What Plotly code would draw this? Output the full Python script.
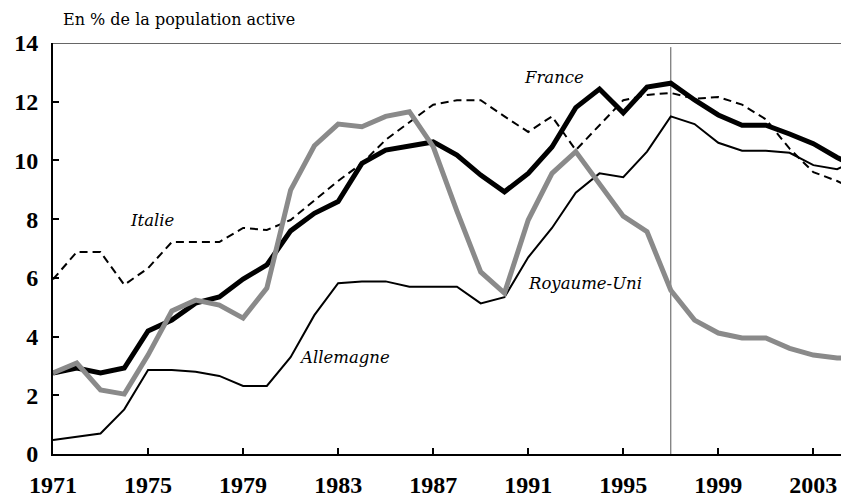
import plotly.graph_objects as go

years = list(range(1971, 2006))

france = [2.76, 2.93, 2.76, 2.93, 4.19, 4.56, 5.14, 5.35, 5.96, 6.44,
          7.6, 8.2, 8.6, 9.9, 10.35, 10.5, 10.63, 10.18, 9.5, 8.93,
          9.56, 10.46, 11.8, 12.43, 11.62, 12.5, 12.63, 12.06, 11.55, 11.2,
          11.2, 10.9, 10.57, 10.1, 9.7]
italie = [5.95, 6.88, 6.88, 5.76, 6.33, 7.22, 7.22, 7.22, 7.7, 7.63,
          7.97, 8.65, 9.3, 9.9, 10.7, 11.3, 11.9, 12.05, 12.05, 11.5,
          10.97, 11.5, 10.35, 11.2, 12.05, 12.23, 12.3, 12.1, 12.16, 11.9,
          11.4, 10.4, 9.6, 9.3, 8.9]
royaume_uni = [2.76, 3.1, 2.18, 2.04, 3.37, 4.87, 5.24, 5.07, 4.63, 5.65,
               8.99, 10.5, 11.24, 11.15, 11.5, 11.66, 10.47, 8.27, 6.2, 5.48,
               7.97, 9.56, 10.3, 9.2, 8.1, 7.57, 5.58, 4.56, 4.12, 3.95,
               3.95, 3.6, 3.37, 3.27, 3.27]
allemagne = [0.48, 0.6, 0.7, 1.52, 2.86, 2.86, 2.8, 2.66, 2.32, 2.32,
             3.3, 4.73, 5.82, 5.88, 5.88, 5.7, 5.7, 5.7, 5.13, 5.34,
             6.7, 7.7, 8.9, 9.56, 9.43, 10.3, 11.5, 11.24, 10.6, 10.33,
             10.33, 10.26, 9.84, 9.7, 10.1]

labels = ["France", "Italie", "Royaume-Uni", "Allemagne"]
label_x = [1992.1, 1975.2, 1993.4, 1983.25]
label_y = [12.84, 7.97, 5.82, 3.3]

x_ticks = list(range(1971, 2005, 4))
y_ticks = list(range(0, 15, 2))

serif = "Liberation Serif"
gray = "#8a8a8a"

fig = go.Figure()
fig.add_trace(go.Scatter(x=years, y=italie, mode="lines",
                         line=dict(color="black", width=2, dash="8px,5px")))
fig.add_trace(go.Scatter(x=years, y=allemagne, mode="lines",
                         line=dict(color="black", width=2)))
fig.add_trace(go.Scatter(x=years, y=france, mode="lines",
                         line=dict(color="black", width=5)))
fig.add_trace(go.Scatter(x=years, y=royaume_uni, mode="lines",
                         line=dict(color=gray, width=5)))

for t, lx, ly in zip(labels, label_x, label_y):
    fig.add_annotation(x=lx, y=ly, text=f"<i>{t}</i>", showarrow=False,
                       font=dict(family="DejaVu Serif", size=16.5, color="black"))

# 1997 marker line and top border
fig.add_shape(type="line", x0=1997, x1=1997, y0=0, y1=13.86, xref="x", yref="y",
              line=dict(color="#555555", width=1), layer="below")
fig.add_shape(type="line", x0=0, x1=1, y0=14, y1=14, xref="paper", yref="y",
              line=dict(color="#333333", width=1.5))

fig.add_annotation(xref="paper", yref="paper", x=0.01, y=1.0, yanchor="bottom", xanchor="left",
                   yshift=12, text="En % de la population active", showarrow=False,
                   font=dict(family="DejaVu Serif", size=16, color="black"))

# the page body has an 8px margin, so margins are trimmed to keep the plot in place
fig.update_layout(
    width=849, height=497,
    margin=dict(l=45, r=8, t=35, b=51),
    plot_bgcolor="white", paper_bgcolor="white",
    showlegend=False,
    xaxis=dict(range=[1971, 2004.5], tickvals=x_ticks, ticks="inside", ticklen=6, tickwidth=2,
               tickcolor="black", showline=True, linecolor="black", linewidth=2,
               showgrid=False, zeroline=False, automargin=False, ticklabelstandoff=8,
               tickfont=dict(family=serif, size=24, color="black", weight="bold")),
    yaxis=dict(range=[0, 14], tickvals=y_ticks, ticks="inside", ticklen=6, tickwidth=2,
               tickcolor="black", showline=True, linecolor="black", linewidth=2,
               showgrid=False, zeroline=False, ticklabelstandoff=8, automargin=False,
               tickfont=dict(family=serif, size=24, color="black", weight="bold")),
)

fig.write_html("out.html")
